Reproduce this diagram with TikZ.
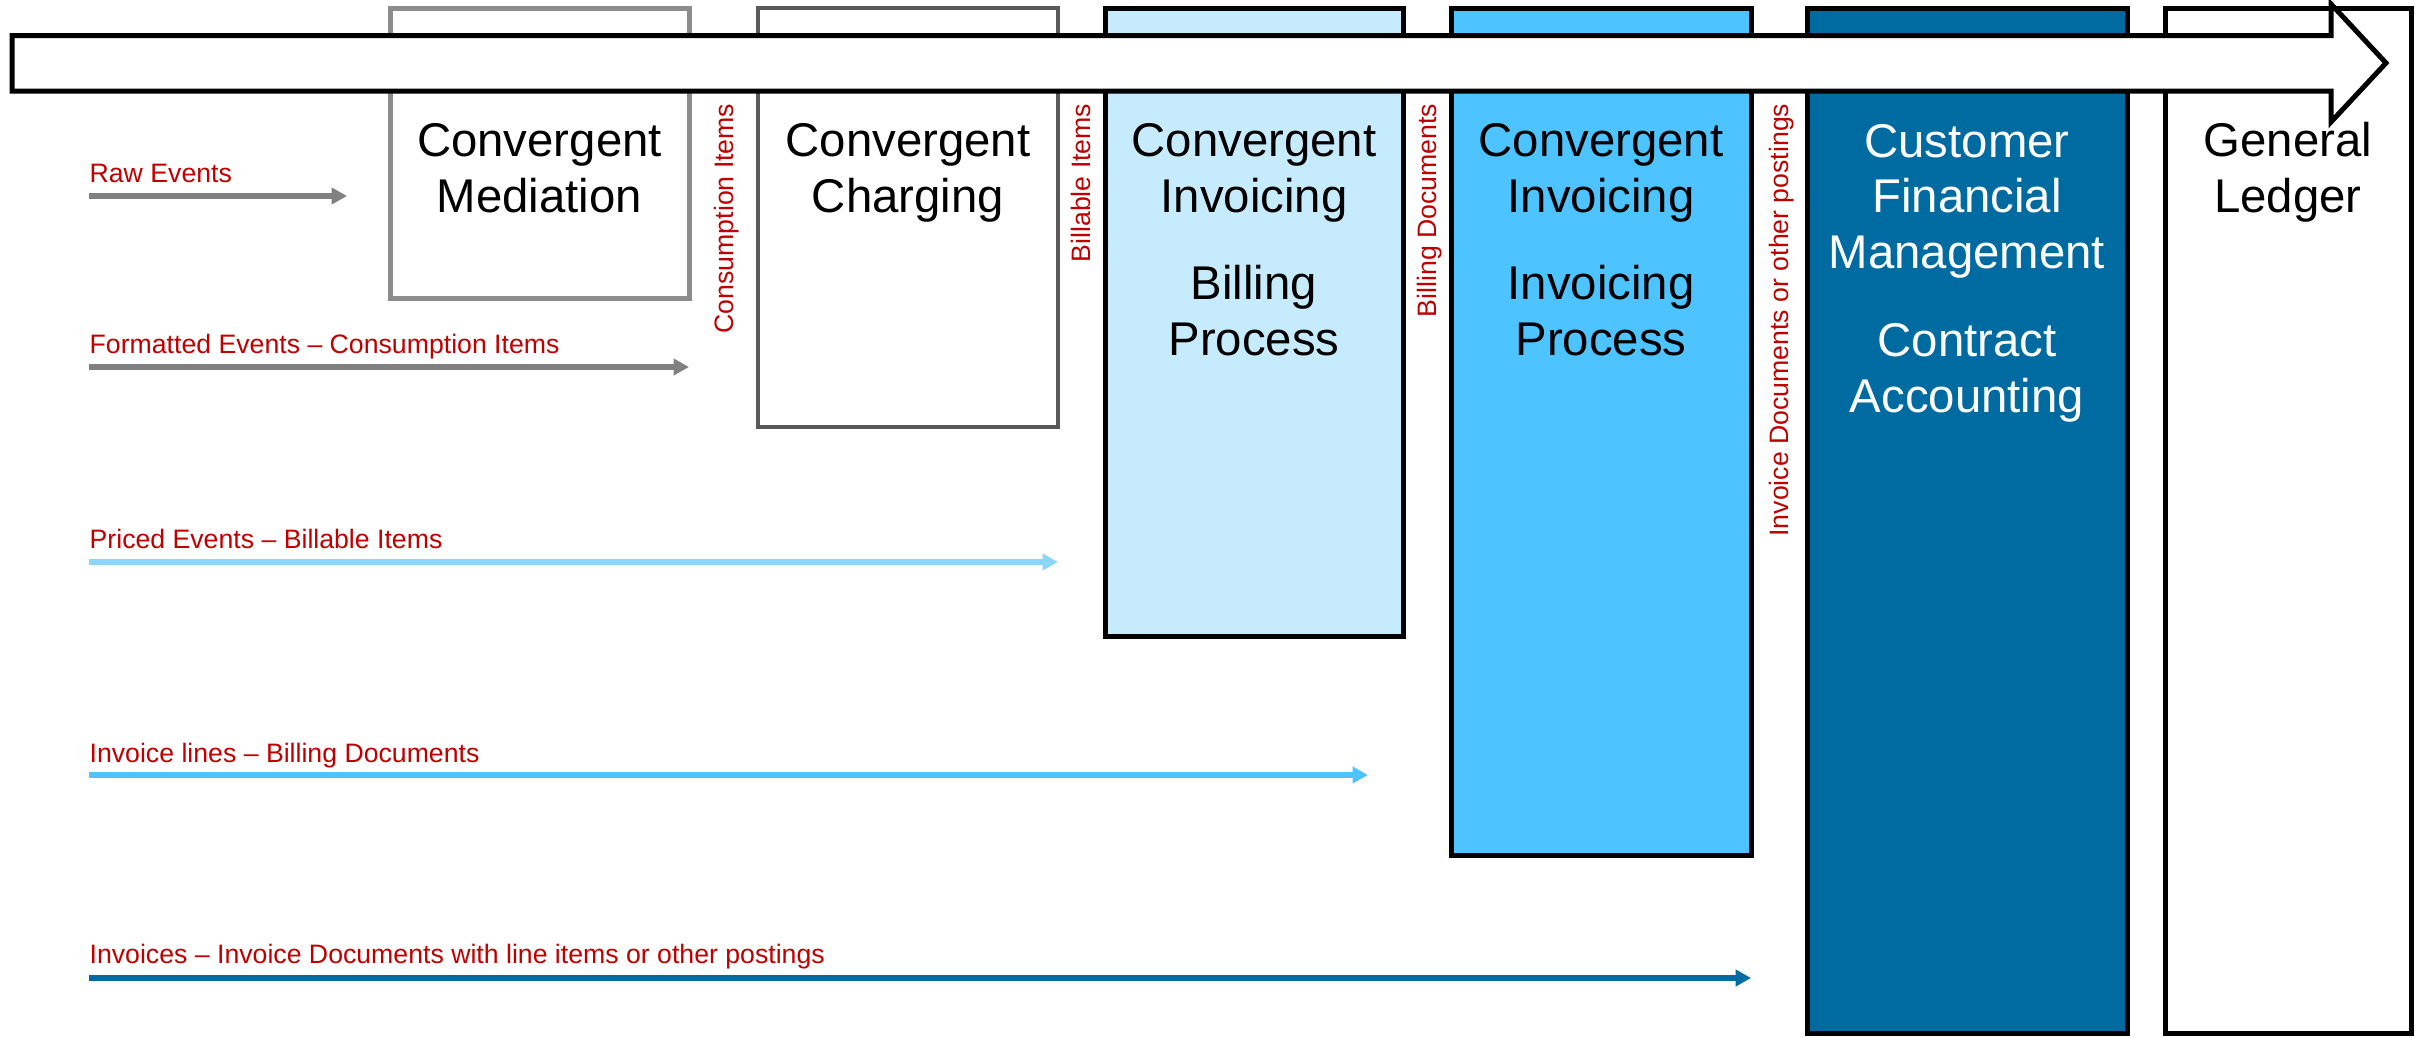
\documentclass[tikz,border=0pt]{standalone}
\usepackage{fontspec}
\setmainfont{Liberation Sans}
\usetikzlibrary{arrows.meta,calc}
\definecolor{medgray}{HTML}{8C8C8C}
\definecolor{chggray}{HTML}{595959}
\definecolor{flowgray}{HTML}{808080}
\definecolor{billblue}{HTML}{C5EBFC}
\definecolor{invblue}{HTML}{4DC4FF}
\definecolor{cfmblue}{HTML}{006BA1}
\definecolor{pricedblue}{HTML}{8AD7FA}
\definecolor{labelred}{HTML}{C00000}

\begin{document}
\begin{tikzpicture}[x=0.3pt,y=-0.3pt,
  stage/.style={draw, line width=1.5pt, inner sep=0pt, outer sep=0pt, anchor=north west},
  % multi-line titles: the base anchor sits on the last line
  title/.style={font=\fontsize{14.2}{16.6}\selectfont, align=center, anchor=base, inner sep=0pt},
  flowlabel/.style={font=\fontsize{8}{9.6}\selectfont, text=labelred, anchor=base west, inner sep=0pt},
  gaplabel/.style={font=\fontsize{8}{9.6}\selectfont, text=labelred, rotate=90, anchor=base east, inner sep=0pt},
  flow/.style={line width=1.6pt, -{Triangle[length=4.6pt,width=4.8pt]}},
]
\useasboundingbox (0,0) rectangle (2417,1038);

% process stages
\node[stage, draw=medgray, minimum width=89.7pt, minimum height=87pt] (med) at (390,8) {};
\node[stage, draw=chggray, line width=1.3pt, minimum width=90pt, minimum height=125.7pt] (chg) at (758,8) {};
\node[stage, fill=billblue, minimum width=89.4pt, minimum height=188.4pt] (bil) at (1105,8) {};
\node[stage, fill=invblue, minimum width=90pt, minimum height=254.1pt] (inv) at (1451,8) {};
\node[stage, fill=cfmblue, minimum width=96pt, minimum height=307.5pt] (cfm) at (1807,8) {};
\node[stage, fill=white, minimum width=73.8pt, minimum height=307.5pt] (gl) at (2165,8) {};

% the timeline arrow across the top
\draw[fill=white, line width=1.5pt, line join=miter]
  (12,35.5) -- (2331,35.5) -- (2331,4) -- (2386,63) -- (2331,122) -- (2331,91) -- (12,91) -- cycle;

% stage titles
\node[title] (medT) at ($(med.north)+(0,204)$) {Convergent\\Mediation};
\node[title] (chgT) at ($(chg.north)+(0,204)$) {Convergent\\Charging};
\node[title] (bilT) at ($(bil.north)+(0,204)$) {Convergent\\Invoicing};
\node[title] (bilS) at ($(bil.north)+(0,347)$) {Billing\\Process};
\node[title] (invT) at ($(inv.north)+(0,204)$) {Convergent\\Invoicing};
\node[title] (invS) at ($(inv.north)+(0,347)$) {Invoicing\\Process};
\node[title, text=white] (cfmT) at ($(cfm.north)+(0,260)$) {Customer\\Financial\\Management};
\node[title, text=white] (cfmS) at ($(cfm.north)+(0,404)$) {Contract\\Accounting};
\node[title] (glT) at ($(gl.north)+(0,204)$) {General\\Ledger};

% hand-over objects between stages
\node[gaplabel] (lblCI) at (733,103) {Consumption Items};
\node[gaplabel] (lblBI) at (1090,103) {Billable Items};
\node[gaplabel] (lblBD) at (1436,103) {Billing Documents};
\node[gaplabel] (lblID) at (1788,103) {Invoice Documents or other postings};

% data flows
\coordinate (rawS) at (89,196);   \coordinate (rawE) at (347,196);
\coordinate (fmtS) at (89,367);   \coordinate (fmtE) at (689,367);
\coordinate (prcS) at (89,562);   \coordinate (prcE) at (1058,562);
\coordinate (ilnS) at (89,775);   \coordinate (ilnE) at (1368,775);
\coordinate (ivcS) at (89,978);   \coordinate (ivcE) at (1751,978);

\draw[flow, flowgray] (rawS) -- (rawE);
\draw[flow, flowgray] (fmtS) -- (fmtE);
\draw[flow, pricedblue] (prcS) -- (prcE);
\draw[flow, invblue] (ilnS) -- (ilnE);
\draw[flow, cfmblue] (ivcS) -- (ivcE);

\node[flowlabel] (rawL) at ($(rawS)+(0,-14)$) {Raw Events};
\node[flowlabel] (fmtL) at ($(fmtS)+(0,-14)$) {Formatted Events -- Consumption Items};
\node[flowlabel] (prcL) at ($(prcS)+(0,-14)$) {Priced Events -- Billable Items};
\node[flowlabel] (ilnL) at ($(ilnS)+(0,-13)$) {Invoice lines -- Billing Documents};
\node[flowlabel] (ivcL) at ($(ivcS)+(0,-15)$) {Invoices -- Invoice Documents with line items or other postings};
\end{tikzpicture}
\end{document}
